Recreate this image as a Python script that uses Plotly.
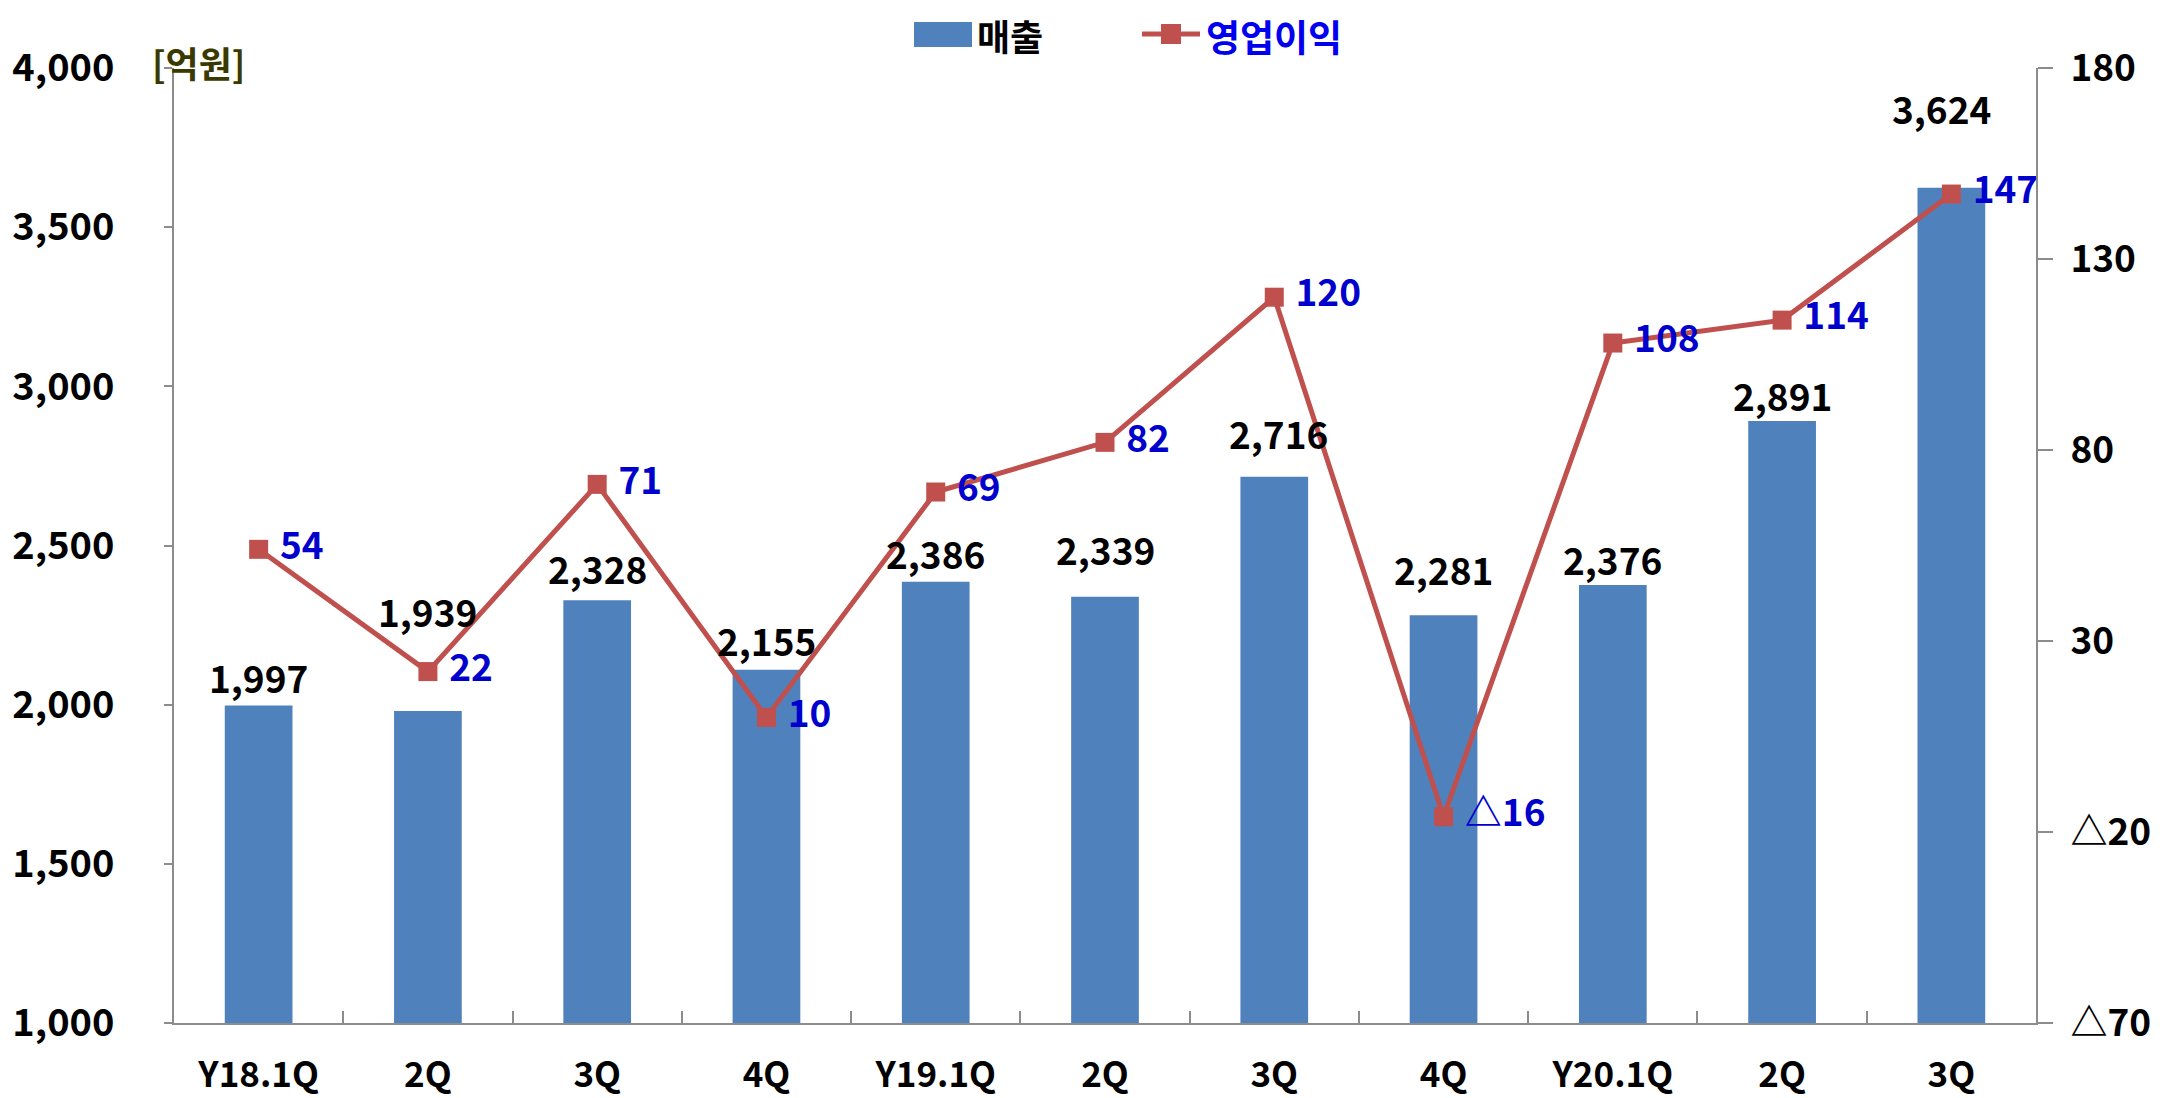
import plotly.graph_objects as go

categories = ["Y18.1Q", "2Q", "3Q", "4Q", "Y19.1Q", "2Q ", "3Q ", "4Q ", "Y20.1Q", "2Q  ", "3Q  "]
tick_labels = ["Y18.1Q", "2Q", "3Q", "4Q", "Y19.1Q", "2Q", "3Q", "4Q", "Y20.1Q", "2Q", "3Q"]
sales_bar_heights = [1997, 1980, 2328, 2110, 2386, 2339, 2716, 2281, 2376, 2891, 3624]
sales_labels = [1997, 1939, 2328, 2155, 2386, 2339, 2716, 2281, 2376, 2891, 3624]
op_profit = [54, 22, 71, 10, 69, 82, 120, -16, 108, 114, 147]
left_ticks = [1000, 1500, 2000, 2500, 3000, 3500, 4000]
right_ticks = [-70, -20, 30, 80, 130, 180]

# style: pixel lift of each sales label above its bar top (label centre), and sideways nudge
label_lift = [29, 100, 32, 30, 29, 48, 44, 46, 26, 26, 80]
label_nudge = [0, 0, 0, 0, 0, 0, 4, 0, 0, 0, -10]

FONT = "Noto Sans CJK KR"
BAR_COLOR = "#4F81BD"
LINE_COLOR = "#C0504D"
LABEL_BLUE = "#0000CC"
AXIS_GRAY = "#8C8C8C"

W, H = 2167, 1098
OFF = 8  # page body margin
ML, MT = 174 - OFF, 68 - OFF
MR, MB = W - (2036 - OFF), H - (1023 - OFF)
PW, PH = W - ML - MR, H - MT - MB


def px(x):
    return (x - OFF - ML) / PW


def py(y):
    return (H - MB - (y - OFF)) / PH


def tri(v):
    return f"△{abs(v)}" if v < 0 else f"{v}"


fig = go.Figure()
fig.add_trace(go.Bar(
    x=categories, y=sales_bar_heights, name="매출",
    marker=dict(color=BAR_COLOR, line=dict(width=0)),
    yaxis="y", showlegend=False,
))
fig.add_trace(go.Scatter(
    x=categories, y=op_profit, name="영업이익",
    mode="lines+markers+text",
    line=dict(color=LINE_COLOR, width=5),
    marker=dict(symbol="square", size=19, color=LINE_COLOR),
    text=["\u00a0" + tri(v) for v in op_profit], textposition="middle right",
    textfont=dict(family=FONT, size=37, color=LABEL_BLUE, weight="bold"),
    cliponaxis=False,
    yaxis="y2", showlegend=False,
))

annotations = []
for c, h, lab, lift, nudge in zip(categories, sales_bar_heights, sales_labels, label_lift, label_nudge):
    annotations.append(dict(
        x=c, y=h, xref="x", yref="y", text=f"{lab:,}", showarrow=False,
        xanchor="center", yanchor="middle", yshift=lift, xshift=nudge,
        font=dict(family=FONT, size=37, color="black", weight="bold"),
    ))

annotations.append(dict(
    text="[억원]", xref="paper", yref="paper", x=px(150), y=py(62),
    xanchor="left", yanchor="middle", showarrow=False,
    font=dict(family=FONT, size=36, color="#3A3A00", weight="bold"),
))
# legend (drawn manually to get the wide bar swatch)
LEG_Y = 35
annotations.append(dict(
    text="매출", xref="paper", yref="paper", x=px(976), y=py(LEG_Y),
    xanchor="left", yanchor="middle", showarrow=False, borderpad=0,
    font=dict(family=FONT, size=36, color="black", weight="bold"),
))
annotations.append(dict(
    text="영업이익", xref="paper", yref="paper", x=px(1205), y=py(LEG_Y + 1),
    xanchor="left", yanchor="middle", showarrow=False, borderpad=0,
    font=dict(family=FONT, size=37, color="#0000EE", weight="bold"),
))

shapes = [
    dict(type="rect", xref="paper", yref="paper", x0=px(914), x1=px(972), y0=py(LEG_Y + 12), y1=py(LEG_Y - 13),
         fillcolor=BAR_COLOR, line=dict(width=0)),
    dict(type="line", xref="paper", yref="paper", x0=px(1142), x1=px(1200), y0=py(LEG_Y - 1), y1=py(LEG_Y - 1),
         line=dict(color=LINE_COLOR, width=5)),
    dict(type="rect", xref="paper", yref="paper", x0=px(1161), x1=px(1181), y0=py(LEG_Y + 9), y1=py(LEG_Y - 11),
         fillcolor=LINE_COLOR, line=dict(width=0)),
]

fig.update_layout(
    width=W, height=H,
    paper_bgcolor="white", plot_bgcolor="white",
    margin=dict(l=ML, r=MR, t=MT, b=MB, autoexpand=False),
    font=dict(family=FONT, size=32, color="black"),
    bargap=0.6,
    showlegend=False,
    annotations=annotations,
    shapes=shapes,
    xaxis=dict(
        type="category", tickmode="array", tickvals=categories, ticktext=tick_labels,
        range=[-0.5, len(categories) - 0.5],
        showline=True, linecolor=AXIS_GRAY, linewidth=2,
        ticks="inside", tickson="boundaries", ticklen=12, tickcolor=AXIS_GRAY, tickwidth=1.5,
        tickfont=dict(family=FONT, size=35, color="black", weight="bold"),
        ticklabelstandoff=20, showgrid=False, zeroline=False, automargin=False,
    ),
    yaxis=dict(
        range=[1000, 4000], tickvals=left_ticks, tickformat=",",
        showline=True, linecolor=AXIS_GRAY, linewidth=2,
        ticks="outside", ticklen=8, tickcolor=AXIS_GRAY, tickwidth=1.5,
        tickfont=dict(family=FONT, size=38, color="black", weight="bold"),
        ticklabelstandoff=42, showgrid=False, zeroline=False, automargin=False,
    ),
    yaxis2=dict(
        range=[-70, 180], overlaying="y", side="right",
        tickvals=right_ticks, ticktext=[tri(v) for v in right_ticks],
        showline=True, linecolor=AXIS_GRAY, linewidth=2,
        ticks="outside", ticklen=15, tickcolor=AXIS_GRAY, tickwidth=1.5,
        tickfont=dict(family=FONT, size=37, color="black", weight="bold"),
        ticklabelstandoff=10, showgrid=False, zeroline=False, automargin=False,
    ),
)

fig.write_html("out.html")
